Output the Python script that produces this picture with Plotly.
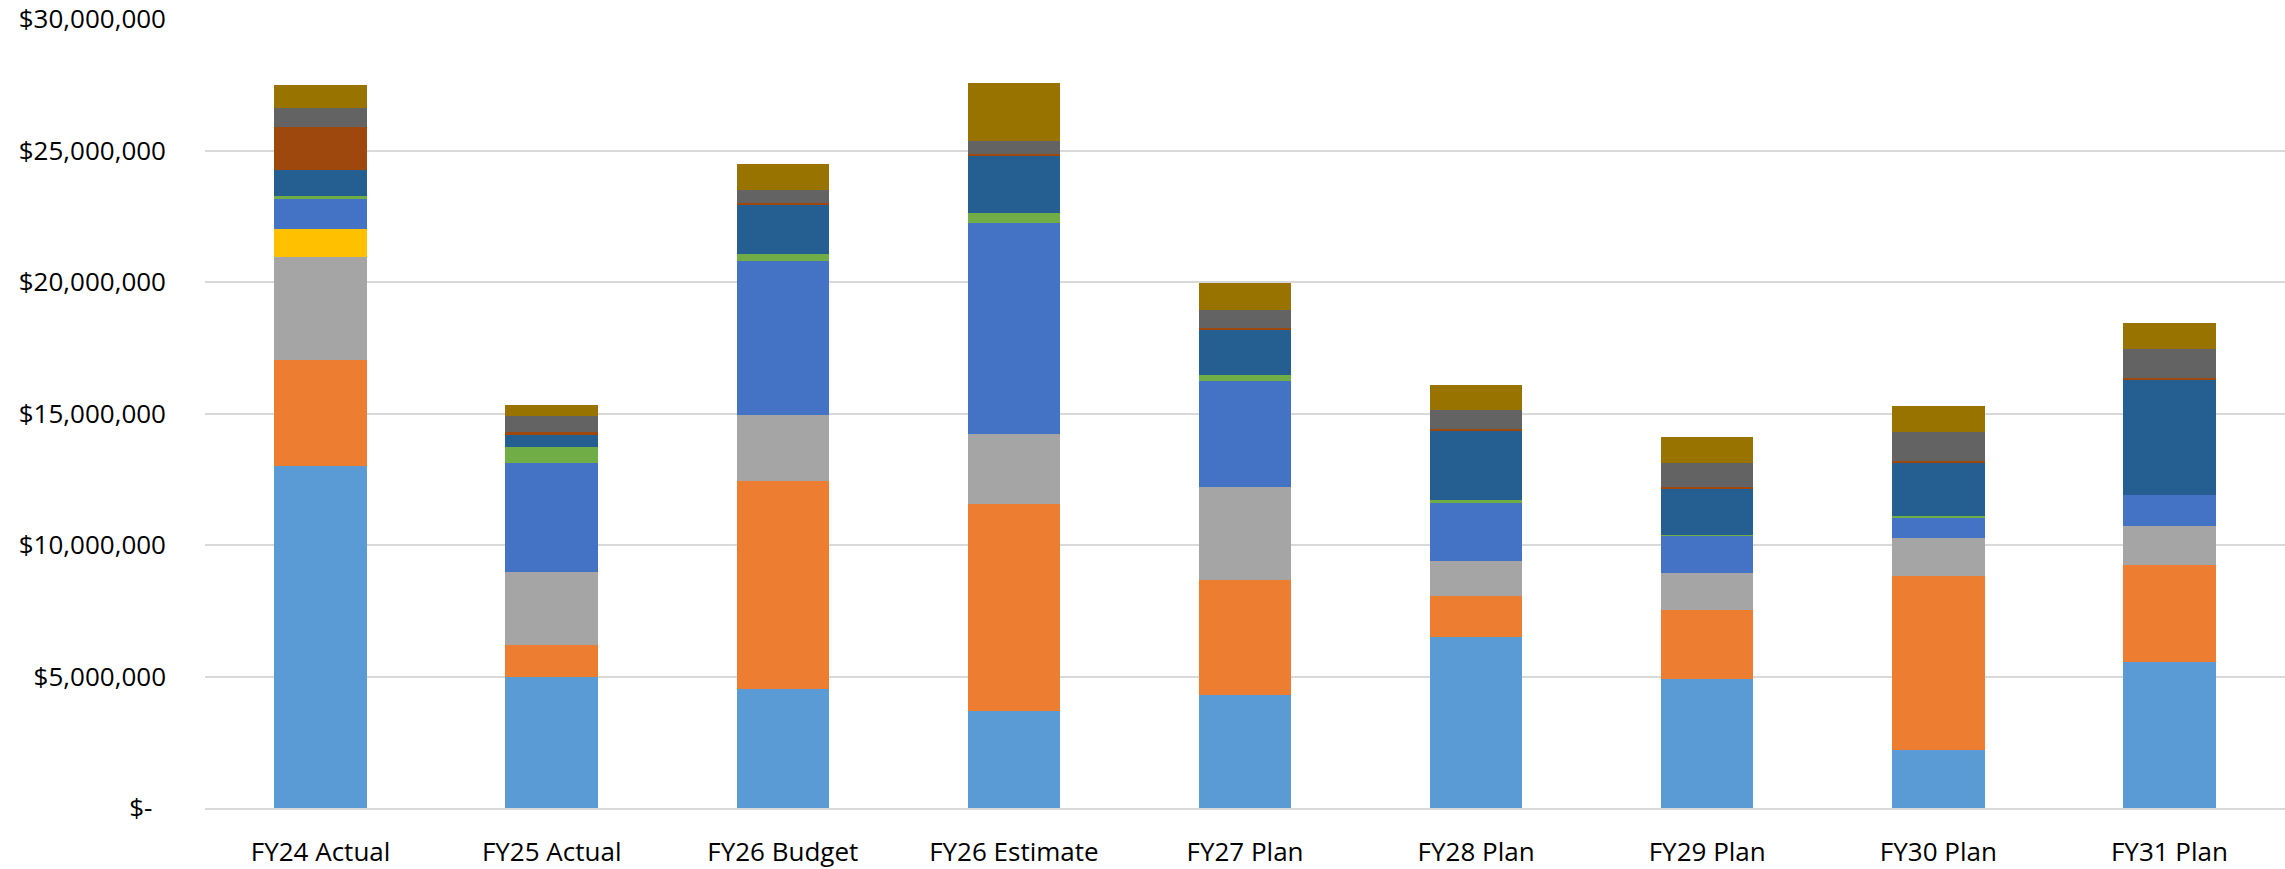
import plotly.graph_objects as go

categories = ["FY24 Actual", "FY25 Actual", "FY26 Budget", "FY26 Estimate",
              "FY27 Plan", "FY28 Plan", "FY29 Plan", "FY30 Plan", "FY31 Plan"]

# Segment values in $ millions, bottom to top
s1 = [12.99, 5.00, 4.54, 3.67, 4.29, 6.50, 4.89, 2.20, 5.57]
s2 = [4.05, 1.20, 7.91, 7.90, 4.38, 1.56, 2.63, 6.64, 3.67]
s3 = [3.91, 2.78, 2.49, 2.65, 3.53, 1.32, 1.43, 1.44, 1.48]
s4 = [1.06, 0.00, 0.00, 0.00, 0.00, 0.00, 0.00, 0.00, 0.00]
s5 = [1.13, 4.13, 5.87, 8.01, 4.03, 2.20, 1.40, 0.76, 1.19]
s6 = [0.12, 0.63, 0.26, 0.41, 0.23, 0.14, 0.04, 0.05, 0.00]
s7 = [0.98, 0.48, 1.86, 2.16, 1.73, 2.63, 1.76, 2.04, 4.38]
s8 = [1.65, 0.07, 0.08, 0.06, 0.08, 0.06, 0.06, 0.05, 0.07]
s9 = [0.74, 0.61, 0.48, 0.50, 0.68, 0.71, 0.91, 1.10, 1.10]
s10 = [0.86, 0.43, 1.01, 2.21, 1.00, 0.98, 1.00, 1.00, 1.00]

series = [s1, s2, s3, s4, s5, s6, s7, s8, s9, s10]
colors = ["#5B9BD5", "#ED7D31", "#A5A5A5", "#FFC000", "#4472C4",
          "#70AD47", "#255E91", "#9E480E", "#636363", "#997300"]

tick_vals = [0, 5e6, 10e6, 15e6, 20e6, 25e6, 30e6]
tick_text = ["$-\u00a0\u00a0", "$5,000,000", "$10,000,000", "$15,000,000",
             "$20,000,000", "$25,000,000", "$30,000,000"]

fig = go.Figure()
for i, (vals, col) in enumerate(zip(series, colors)):
    fig.add_trace(go.Bar(
        x=categories,
        y=[v * 1e6 for v in vals],
        name=f"Series {i + 1}",
        marker=dict(color=col, line=dict(width=0)),
        hoverinfo="x+y",
    ))

font = dict(family="Open Sans, sans-serif", size=26, color="#000000")

fig.update_layout(
    barmode="stack",
    bargap=0.6,
    width=2285,
    height=869,
    margin=dict(l=205, r=0, t=19, b=59),
    plot_bgcolor="white",
    paper_bgcolor="white",
    showlegend=False,
    font=font,
)
fig.update_yaxes(
    range=[0, 30e6],
    tickvals=tick_vals,
    ticktext=tick_text,
    showgrid=True,
    gridcolor="#D9D9D9",
    gridwidth=2,
    zeroline=False,
    showline=False,
    ticks="",
    ticklabelstandoff=38,
    tickfont=font,
)
fig.update_xaxes(
    showline=True,
    linecolor="#D9D9D9",
    linewidth=2,
    ticks="",
    ticklabelstandoff=20,
    tickfont=font,
)

fig.write_html(
    "out.html",
    config={"displayModeBar": False},
    post_script="document.body.style.margin='0';document.body.style.overflow='hidden';",
)
